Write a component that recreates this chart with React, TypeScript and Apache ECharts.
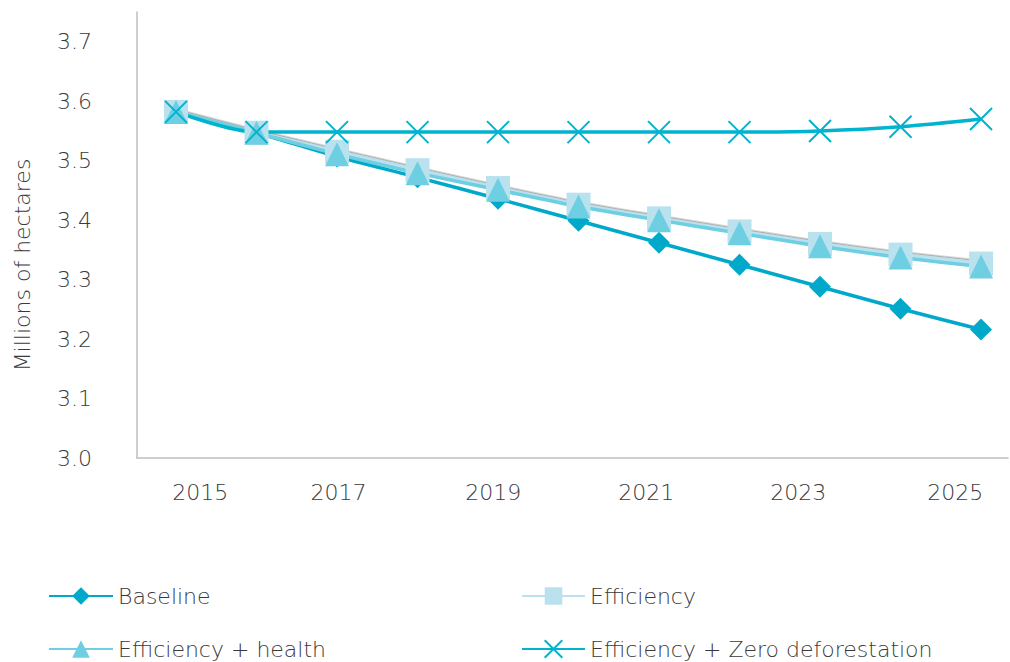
import React, { useEffect, useRef } from "react";
import * as echarts from "echarts";

const years = [2015, 2016, 2017, 2018, 2019, 2020, 2021, 2022, 2023, 2024, 2025];
const baseline = [3.582, 3.547, 3.507, 3.472, 3.436, 3.399, 3.362, 3.325, 3.288, 3.251, 3.216];
const efficiency = [3.582, 3.547, 3.515, 3.484, 3.454, 3.426, 3.403, 3.381, 3.360, 3.342, 3.327];
const efficiencyHealth = [3.582, 3.547, 3.511, 3.479, 3.451, 3.423, 3.400, 3.378, 3.356, 3.337, 3.322];
const zeroDeforestation = [3.582, 3.548, 3.548, 3.548, 3.548, 3.548, 3.548, 3.548, 3.550, 3.557, 3.570];

const xTickLabels = ["2015", "2017", "2019", "2021", "2023", "2025"];
// where Excel placed each year label along the axis (in axis units)
const xTickAt = [2015.3, 2017.02, 2018.94, 2020.84, 2022.73, 2024.68];

const FONT = "DejaVu Sans";
const WEIGHT = 200;
const TEXT = "#3a3a3a";

const pairs = (ys: number[]) => years.map((y, i) => [y, ys[i]]);

export default function App() {
  const ref = useRef<HTMLDivElement>(null);
  useEffect(() => {
    const chart = echarts.init(ref.current!, null, { renderer: "svg" });
    const xMark = "path://M0,0L20,20M20,0L0,20";
    chart.setOption({
      animation: false,
      textStyle: { fontFamily: FONT, color: TEXT },
      grid: { left: 137, right: 2, top: 12, bottom: 204 },
      xAxis: {
        type: "value",
        min: 2014.5155,
        max: 2025.335,
        splitLine: { show: false },
        axisTick: { show: false },
        axisLine: { show: true, lineStyle: { color: "#bfbfbf", width: 1.5 } },
        axisLabel: {
          customValues: xTickAt,
          margin: 23,
          fontSize: 22,
          fontFamily: FONT,
          fontWeight: WEIGHT,
          color: TEXT,
          formatter: (v: number) => {
            const i = xTickAt.findIndex((t) => Math.abs(t - v) < 1e-6);
            return i >= 0 ? xTickLabels[i] : "";
          },
        },
      },
      yAxis: {
        type: "value",
        min: 3.0,
        max: 3.75,
        interval: 0.1,
        splitLine: { show: false },
        axisTick: { show: false },
        axisLine: { show: true, lineStyle: { color: "#bfbfbf", width: 1.5 } },
        axisLabel: {
          showMaxLabel: false,
          margin: 45,
          fontSize: 22,
          fontFamily: FONT,
          fontWeight: WEIGHT,
          color: TEXT,
          formatter: (v: number) => v.toFixed(1),
        },
      },
      graphic: [
        {
          type: "text",
          x: 22,
          y: 265,
          rotation: Math.PI / 2,
          style: {
            text: "Millions of hectares",
            fontSize: 22,
            fontFamily: FONT,
            fontWeight: WEIGHT,
            fill: TEXT,
            align: "center",
            verticalAlign: "middle",
          },
        },
      ],
      legend: [
        {
          orient: "vertical",
          left: 48,
          top: 585,
          padding: 0,
          itemWidth: 64,
          itemHeight: 22,
          itemGap: 31,
          textStyle: { fontSize: 22, fontFamily: FONT, fontWeight: WEIGHT, color: TEXT },
          data: ["Baseline", "Efficiency + health"],
        },
        {
          orient: "vertical",
          left: 521,
          top: 585,
          padding: 0,
          itemWidth: 63,
          itemHeight: 22,
          itemGap: 31,
          textStyle: { fontSize: 22, fontFamily: FONT, fontWeight: WEIGHT, color: TEXT },
          data: ["Efficiency", "Efficiency + Zero deforestation"],
        },
      ],
      series: [
        {
          name: "Baseline",
          type: "line",
          data: pairs(baseline),
          smooth: 0.2,
          symbol: "diamond",
          symbolSize: 22,
          lineStyle: { color: "#00A9CA", width: 3.5 },
          itemStyle: { color: "#00A9CA" },
        },
        {
          name: "Efficiency",
          type: "line",
          data: pairs(efficiency),
          smooth: 0.2,
          symbol: "rect",
          symbolSize: 24,
          lineStyle: { color: "#B9E2EE", width: 4, shadowColor: "rgba(120,120,120,0.6)", shadowOffsetY: -1.5 },
          itemStyle: { color: "#B9E2EE" },
        },
        {
          name: "Efficiency + health",
          type: "line",
          data: pairs(efficiencyHealth),
          smooth: 0.2,
          symbol: "triangle",
          symbolSize: 24,
          lineStyle: { color: "#6ECFE2", width: 3.5 },
          itemStyle: { color: "#6ECFE2" },
        },
        {
          name: "Efficiency + Zero deforestation",
          type: "line",
          data: pairs(zeroDeforestation),
          smooth: 0.3,
          symbol: xMark,
          symbolSize: 22,
          lineStyle: { color: "#00B3CF", width: 3.5 },
          itemStyle: { color: "transparent", borderColor: "#00B3CF", borderWidth: 2 },
        },
      ],
    });
    return () => chart.dispose();
  }, []);
  return <div ref={ref} style={{ width: 1010, height: 662, position: "absolute", left: 0, top: 0 }} />;
}
